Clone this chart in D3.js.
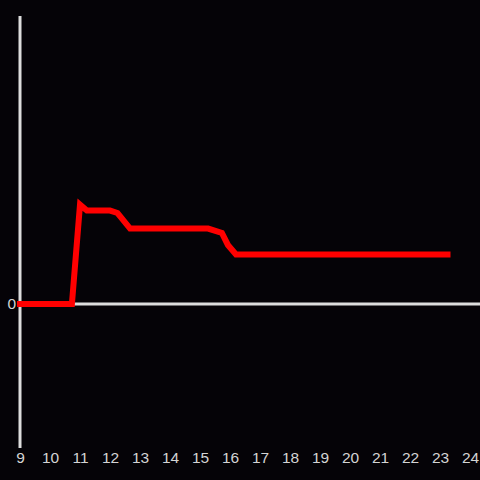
<!DOCTYPE html>
<html>
<head>
<meta charset="utf-8">
<script src="https://cdn.jsdelivr.net/npm/d3@7"></script>
<style>
  html, body { margin: 0; padding: 0; background: #050307; }
  svg { display: block; }
  .tick text { fill: #d4d4d4; font-family: "Liberation Sans", Arial, sans-serif; font-size: 15.5px; }
</style>
</head>
<body>
<svg id="chart" width="480" height="480"></svg>
<script>
// hours of day and the measured value at each
var hours = [9, 10.73, 11.0, 11.23, 12.0, 12.25, 12.67, 15.27, 15.73, 15.93, 16.2, 23.25];
var values = [0, 0, 0.69, 0.649, 0.649, 0.632, 0.524, 0.524, 0.493, 0.41, 0.344, 0.344];
var xTicks = d3.range(9, 25);
var yTicks = [0];

var width = 480, height = 480;

var svg = d3.select("#chart");

svg.append("rect")
    .attr("width", width)
    .attr("height", height)
    .attr("fill", "#050307");

var x = d3.scaleLinear().domain([9, 24]).range([20, 470]);
var y = d3.scaleLinear().domain([-1, 2]).range([448, 16]);

// y axis line
svg.append("line")
    .attr("x1", x(9)).attr("x2", x(9))
    .attr("y1", y(-1)).attr("y2", y(2))
    .attr("stroke", "#dddddd")
    .attr("stroke-width", 3);

// zero line
svg.append("line")
    .attr("x1", x(9)).attr("x2", width)
    .attr("y1", y(0)).attr("y2", y(0))
    .attr("stroke", "#dddddd")
    .attr("stroke-width", 3);

var xAxis = svg.append("g")
    .attr("transform", "translate(0," + 452 + ")")
    .call(d3.axisBottom(x).tickValues(xTicks).tickSize(0).tickPadding(0).tickFormat(d3.format("d")));
xAxis.select(".domain").remove();

var yAxis = svg.append("g")
    .attr("transform", "translate(" + 17 + ",0)")
    .call(d3.axisLeft(y).tickValues(yTicks).tickSize(0).tickPadding(1).tickFormat(d3.format("d")));
yAxis.select(".domain").remove();

var line = d3.line()
    .x(function (d, i) { return x(hours[i]); })
    .y(function (d) { return y(d); });

svg.append("path")
    .datum(values)
    .attr("d", line)
    .attr("fill", "none")
    .attr("stroke", "#ff0000")
    .attr("stroke-width", 6)
    .attr("stroke-linecap", "square");
</script>
</body>
</html>
